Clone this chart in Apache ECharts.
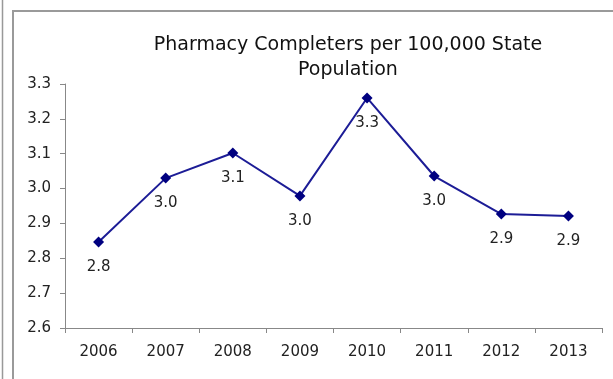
<!DOCTYPE html>
<html><head><meta charset="utf-8">
<script src="https://cdn.jsdelivr.net/npm/echarts@6/dist/echarts.min.js"></script>
<style>html,body{margin:0;padding:0;background:#fff;}#c{width:613px;height:379px;}</style>
</head><body><div id="c"></div>
<script>
var categories = ['2006','2007','2008','2009','2010','2011','2012','2013'];
var values = [2.847, 3.030, 3.102, 2.979, 3.260, 3.036, 2.927, 2.921];
var yTicks = [2.6, 2.7, 2.8, 2.9, 3.0, 3.1, 3.2, 3.3];
var titleText = 'Pharmacy Completers per 100,000 State\nPopulation';

var FONT = 'DejaVu Sans';
var chart = echarts.init(document.getElementById('c'), null, {renderer:'canvas'});
chart.setOption({
  animation: false,
  backgroundColor: '#fff',
  graphic: [
    {type:'line', shape:{x1:2.5,y1:0,x2:2.5,y2:379}, style:{stroke:'#999',lineWidth:1.5}},
    {type:'polyline', shape:{points:[[13,379],[13,11],[613,11]]}, style:{stroke:'#9a9a9a',lineWidth:2,fill:null}}
  ],
  title: {
    text: titleText,
    left: 343, top: 28, textAlign: 'center',
    textStyle: {fontFamily:FONT, fontSize:19, fontWeight:'normal', color:'#111', lineHeight:25}
  },
  grid: {left:65, right:11, top:84, bottom:51, containLabel:false},
  xAxis: {
    type:'category', data: categories, boundaryGap:true,
    axisLine:{lineStyle:{color:'#888', width:1}},
    axisTick:{show:true, alignWithLabel:false, length:5, lineStyle:{color:'#888'}},
    axisLabel:{fontFamily:FONT, fontSize:15, color:'#222', margin:17}
  },
  yAxis: {
    type:'value', min: yTicks[0], max: yTicks[yTicks.length-1], interval:0.1,
    splitLine:{show:false},
    axisLine:{show:true, lineStyle:{color:'#888', width:1}},
    axisTick:{show:true, length:5, lineStyle:{color:'#888'}},
    axisLabel:{fontFamily:FONT, fontSize:15, color:'#222', margin:14,
      formatter:function(v){return v.toFixed(1);}}
  },
  series: [{
    type:'line', data: values,
    symbol:'diamond', symbolSize:11,
    lineStyle:{color:'#1c1c96', width:2},
    itemStyle:{color:'#000080'},
    label:{show:true, position:'bottom', distance:12,
      fontFamily:FONT, fontSize:15, color:'#222',
      formatter:function(p){return p.value.toFixed(1);}}
  }]
});
</script></body></html>
